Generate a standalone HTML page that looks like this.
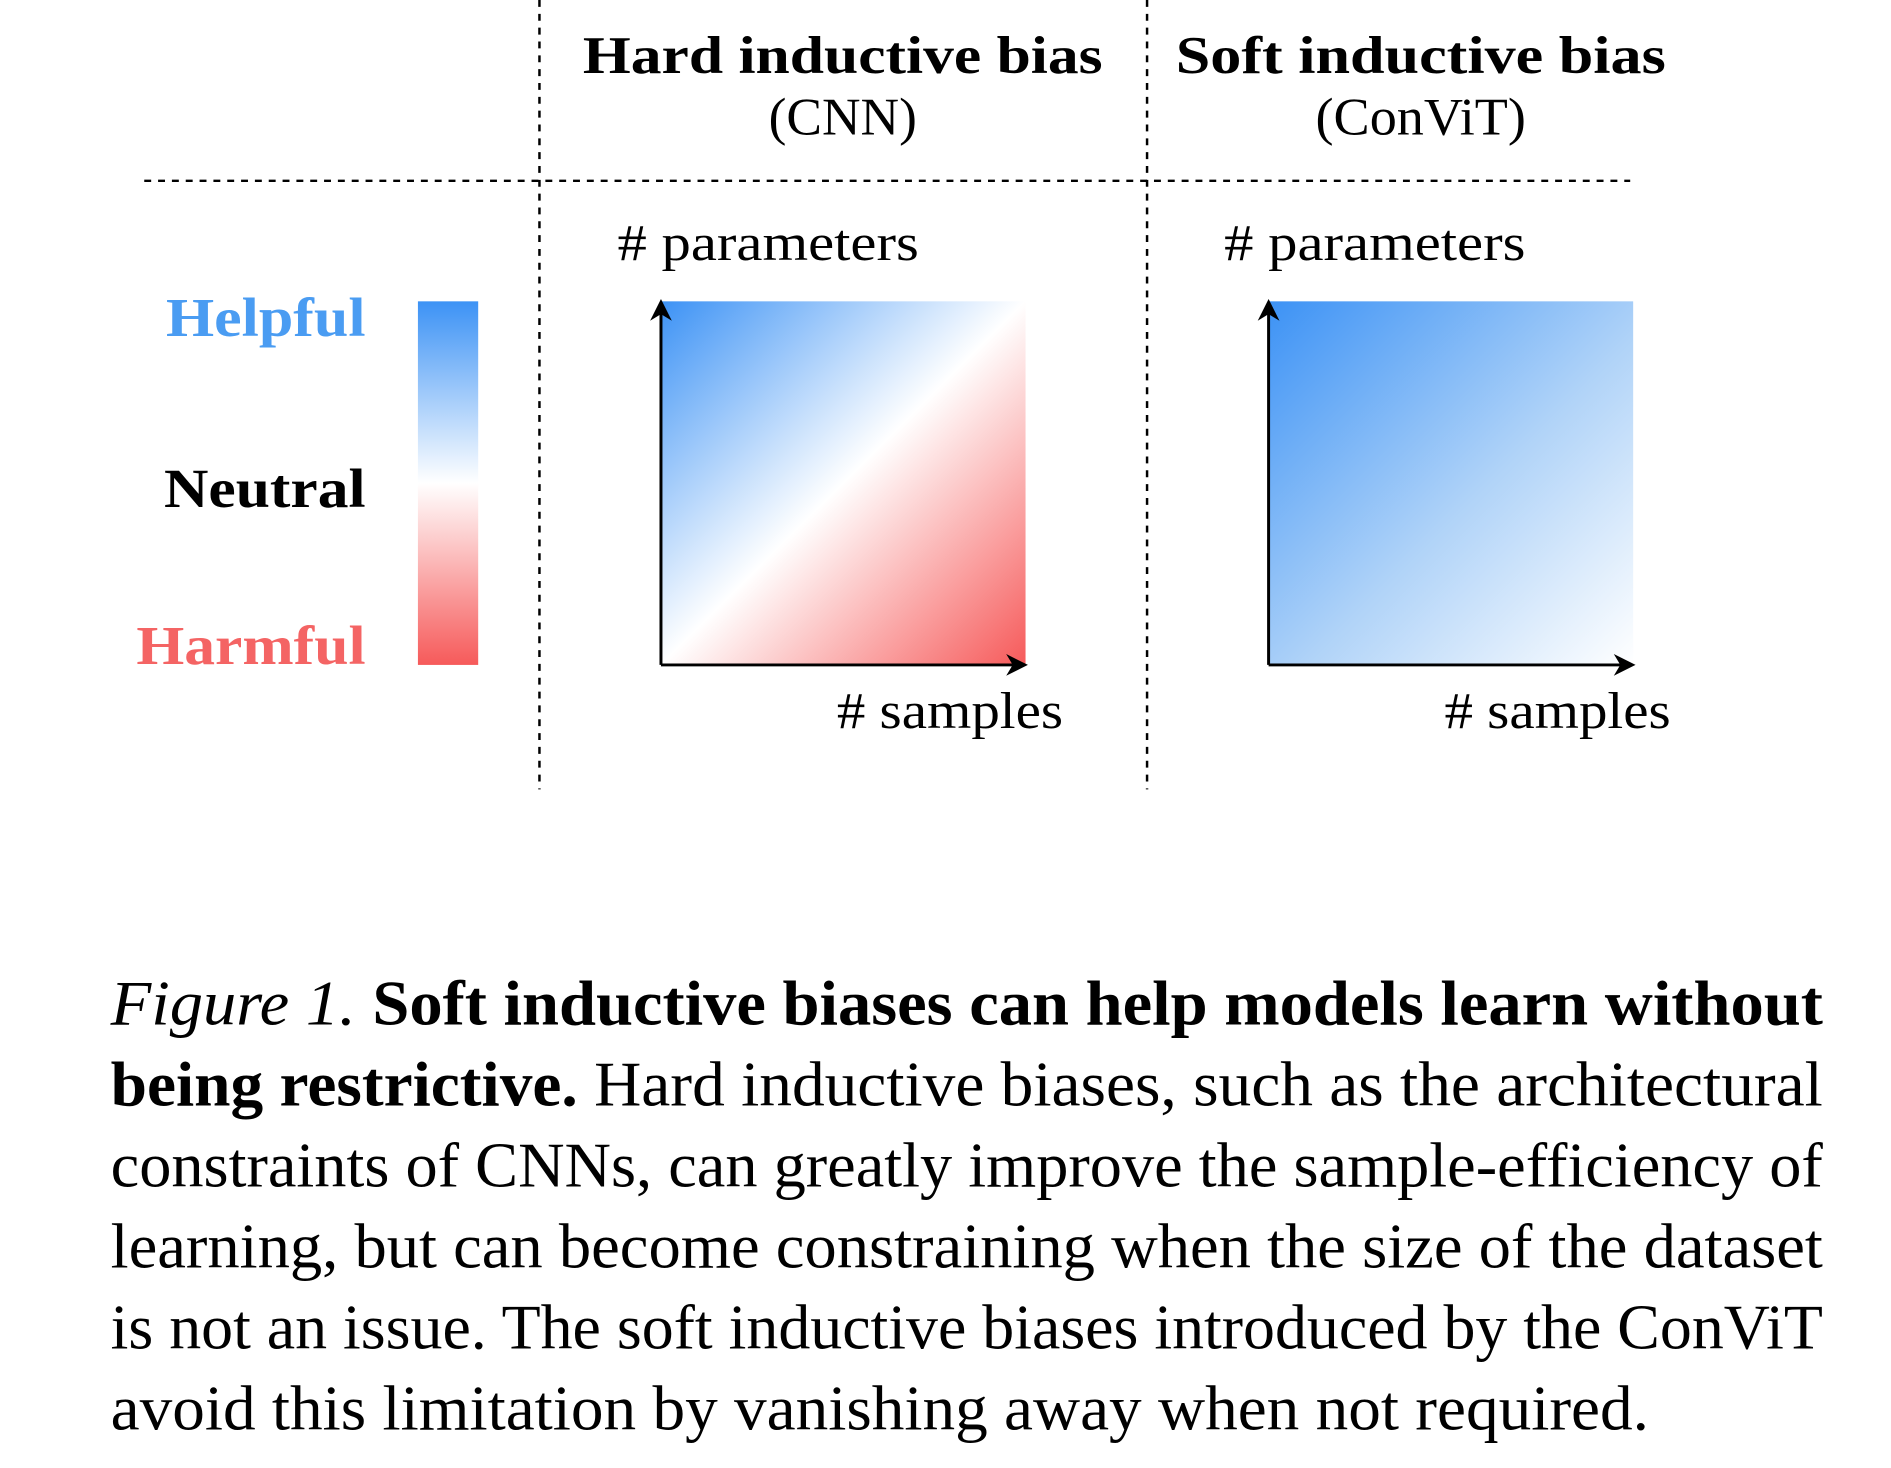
<!DOCTYPE html>
<html><head><meta charset="utf-8"><style>
html,body{margin:0;padding:0;background:#fff;}
svg{display:block;font-family:"Liberation Serif",serif;}
</style></head><body>
<svg width="1891" height="1468" viewBox="0 0 1891 1468">
<defs>
<linearGradient id="cbar" x1="0" y1="0" x2="0" y2="1">
<stop offset="0" stop-color="#3c92f5"/><stop offset="0.5" stop-color="#ffffff"/><stop offset="1" stop-color="#f65a5a"/>
</linearGradient>
<linearGradient id="cnn" x1="0" y1="0" x2="1" y2="1">
<stop offset="0" stop-color="#3c92f5"/><stop offset="0.5" stop-color="#ffffff"/><stop offset="1" stop-color="#f65a5a"/>
</linearGradient>
<linearGradient id="convit" x1="0" y1="0" x2="1" y2="1">
<stop offset="0" stop-color="#3c92f5"/><stop offset="0.55" stop-color="#b0d3f8"/><stop offset="1" stop-color="#ffffff"/>
</linearGradient>
<marker id="ah" viewBox="0 0 10 10" refX="8" refY="5" markerWidth="28" markerHeight="22" markerUnits="userSpaceOnUse" orient="auto"><path d="M0,0 L10,5 L0,10 L3,5z" fill="#000"/></marker>
</defs>
<g transform="scale(0.988)">
<g stroke="#000" stroke-width="2.5" stroke-dasharray="7,7">
<line x1="546" y1="0" x2="546" y2="799"/>
<line x1="1161" y1="0" x2="1161" y2="799"/>
<line x1="146" y1="183" x2="1650" y2="183"/>
</g>
<text x="853" y="74" text-anchor="middle" font-size="54" font-weight="bold" textLength="526" lengthAdjust="spacingAndGlyphs">Hard inductive bias</text>
<text x="853" y="136" text-anchor="middle" font-size="54" textLength="150" lengthAdjust="spacingAndGlyphs">(CNN)</text>
<text x="1438" y="74" text-anchor="middle" font-size="54" font-weight="bold" textLength="496" lengthAdjust="spacingAndGlyphs">Soft inductive bias</text>
<text x="1438" y="136" text-anchor="middle" font-size="54" textLength="213" lengthAdjust="spacingAndGlyphs">(ConViT)</text>

<rect x="423" y="305" width="61" height="368" fill="url(#cbar)"/>
<text x="370" y="340" text-anchor="end" font-size="56" font-weight="bold" fill="#4a9cf2" textLength="202" lengthAdjust="spacingAndGlyphs">Helpful</text>
<text x="370" y="513" text-anchor="end" font-size="56" font-weight="bold" fill="#000" textLength="204" lengthAdjust="spacingAndGlyphs">Neutral</text>
<text x="370" y="672" text-anchor="end" font-size="56" font-weight="bold" fill="#f46464" textLength="232" lengthAdjust="spacingAndGlyphs">Harmful</text>

<g>
<rect x="669" y="305" width="369" height="368" fill="url(#cnn)"/>
<line x1="669" y1="673" x2="669" y2="307" stroke="#000" stroke-width="3" marker-end="url(#ah)"/>
<line x1="669" y1="673" x2="1036" y2="673" stroke="#000" stroke-width="3" marker-end="url(#ah)"/>
<text x="625" y="263" font-size="52" textLength="305" lengthAdjust="spacingAndGlyphs"># parameters</text>
<text x="847" y="737" font-size="52" textLength="229" lengthAdjust="spacingAndGlyphs"># samples</text>
</g>
<g>
<rect x="1284" y="305" width="369" height="368" fill="url(#convit)"/>
<line x1="1284" y1="673" x2="1284" y2="307" stroke="#000" stroke-width="3" marker-end="url(#ah)"/>
<line x1="1284" y1="673" x2="1651" y2="673" stroke="#000" stroke-width="3" marker-end="url(#ah)"/>
<text x="1239" y="263" font-size="52" textLength="305" lengthAdjust="spacingAndGlyphs"># parameters</text>
<text x="1462" y="737" font-size="52" textLength="229" lengthAdjust="spacingAndGlyphs"># samples</text>
</g>

<g font-size="64">
<text x="112" y="1037" textLength="1733" lengthAdjust="spacingAndGlyphs"><tspan font-style="italic">Figure 1.</tspan> <tspan font-weight="bold">Soft inductive biases can help models learn without</tspan></text>
<text x="112" y="1119" textLength="1733" lengthAdjust="spacingAndGlyphs"><tspan font-weight="bold">being restrictive.</tspan> Hard inductive biases, such as the architectural</text>
<text x="112" y="1201" textLength="1733" lengthAdjust="spacingAndGlyphs">constraints of CNNs, can greatly improve the sample-efficiency of</text>
<text x="112" y="1283" textLength="1733" lengthAdjust="spacingAndGlyphs">learning, but can become constraining when the size of the dataset</text>
<text x="112" y="1365" textLength="1733" lengthAdjust="spacingAndGlyphs">is not an issue. The soft inductive biases introduced by the ConViT</text>
<text x="112" y="1447" textLength="1557" lengthAdjust="spacingAndGlyphs">avoid this limitation by vanishing away when not required.</text>
</g>
</g>
</svg>
</body></html>
